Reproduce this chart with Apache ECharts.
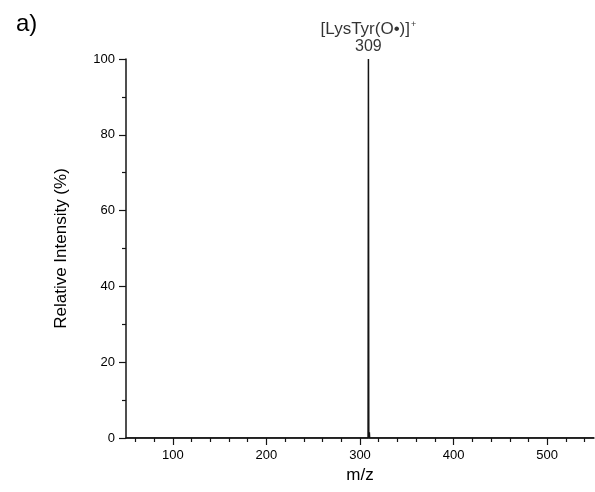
<!DOCTYPE html>
<html>
<head>
<meta charset="utf-8">
<script src="https://cdn.jsdelivr.net/npm/echarts@6/dist/echarts.min.js"></script>
<style>
  html, body { margin: 0; padding: 0; background: #fff; }
  #chart { width: 595px; height: 492px; }
</style>
</head>
<body>
<div id="chart"></div>
<script>
// Mass spectrum: m/z against relative intensity (%)
const mzValues = [50, 308.6, 309, 309.4, 309.8, 310, 310.3, 550];
const intensityValues = [0, 0, 100, 0, 0, 1.5, 0, 0];
const xTickLabels = [100, 200, 300, 400, 500];
const xMinorTicks = [60, 80, 120, 140, 160, 180, 220, 240, 260, 280, 320, 340, 360, 380, 420, 440, 460, 480, 520, 540];
const peakMz = 309;
const peakIntensity = 100;
const peakIon = '[LysTyr(O•)]';

const FONT = '"Liberation Sans", Arial, sans-serif';
const TEXT = '#000';
const INK = '#141414';

const spectrum = mzValues.map((mz, i) => [mz, intensityValues[i]]);

const chart = echarts.init(document.getElementById('chart'), null, { renderer: 'canvas' });

chart.setOption({
  animation: false,
  backgroundColor: '#fff',
  textStyle: { fontFamily: FONT, color: TEXT },
  title: {
    text: 'a)',
    left: 11,
    top: 7,
    textStyle: { fontFamily: FONT, fontSize: 24, fontWeight: 'normal', color: TEXT }
  },
  grid: { left: 126, right: 1, top: 59, bottom: 54, containLabel: false },
  xAxis: [
    {
      type: 'value',
      min: 50,
      max: 550,
      name: 'm/z',
      nameLocation: 'middle',
      nameGap: 29,
      nameTextStyle: { fontFamily: FONT, fontSize: 17, color: TEXT },
      axisLine: { show: true, onZero: false, lineStyle: { color: INK, width: 1.5 } },
      axisTick: { show: true, inside: false, length: 7, customValues: xTickLabels, lineStyle: { color: INK, width: 1.2 } },
      axisLabel: { show: true, customValues: xTickLabels, margin: 11, fontFamily: FONT, fontSize: 13, color: TEXT },
      splitLine: { show: false }
    },
    {
      type: 'value',
      min: 50,
      max: 550,
      position: 'bottom',
      axisLine: { show: false },
      axisTick: { show: true, inside: false, length: 4, customValues: xMinorTicks, lineStyle: { color: INK, width: 1.2 } },
      axisLabel: { show: false },
      splitLine: { show: false }
    }
  ],
  yAxis: {
    type: 'value',
    min: 0,
    max: 100,
    interval: 20,
    name: 'Relative Intensity (%)',
    nameLocation: 'middle',
    nameRotate: 90,
    nameGap: 56,
    nameTextStyle: { fontFamily: FONT, fontSize: 17, color: TEXT },
    axisLine: { show: true, lineStyle: { color: INK, width: 1.5 } },
    axisTick: { show: true, inside: false, length: 7, lineStyle: { color: INK, width: 1.2 } },
    minorTick: { show: true, splitNumber: 2, length: 4, lineStyle: { color: INK, width: 1.2 } },
    axisLabel: { margin: 11, fontFamily: FONT, fontSize: 13, color: TEXT },
    splitLine: { show: false }
  },
  series: [
    {
      type: 'line',
      data: spectrum,
      showSymbol: false,
      symbol: 'none',
      lineStyle: { color: INK, width: 1.5 },
      silent: true,
      z: 3
    },
    {
      type: 'scatter',
      data: [[peakMz, peakIntensity]],
      symbolSize: 0,
      silent: true,
      label: {
        show: true,
        position: 'top',
        distance: 3,
        color: TEXT,
        fontFamily: FONT,
        formatter: () => '{ion|' + peakIon + '}{sup|+}\n{mz|' + peakMz + '}',
        rich: {
          ion: { fontFamily: FONT, fontSize: 17, color: TEXT, lineHeight: 18 },
          sup: { fontFamily: FONT, fontSize: 9, color: TEXT, verticalAlign: 'top', lineHeight: 18, padding: [0, 0, 10, 1] },
          mz: { fontFamily: FONT, fontSize: 16, color: TEXT, lineHeight: 18 }
        }
      }
    }
  ]
});
</script>
</body>
</html>
